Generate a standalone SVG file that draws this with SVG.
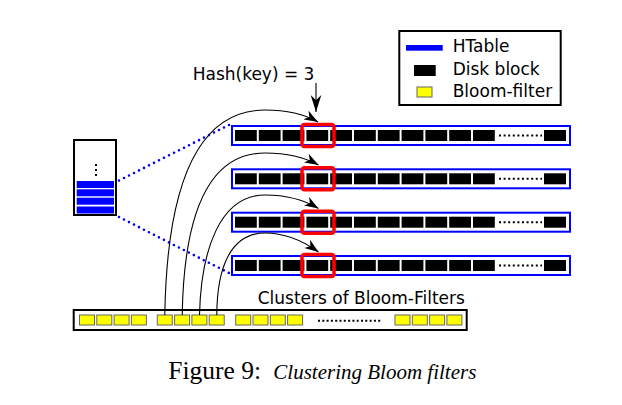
<svg xmlns="http://www.w3.org/2000/svg" xmlns:xlink="http://www.w3.org/1999/xlink" width="622" height="405" viewBox="0 0 622 405">
<style>
.lbl{font-family:"DejaVu Sans",sans-serif;font-size:17px;fill:#000}
.row{fill:#fff;stroke:#0000ff;stroke-width:2}
.blk{fill:#000}
.red{fill:none;stroke:#ff0000;stroke-width:3.5}
.yel{fill:#ffff00;stroke:#666;stroke-width:1}
.dotsb{stroke:#000;stroke-width:2;stroke-dasharray:2 2.6}
.bdot{fill:none;stroke:#0000ff;stroke-width:2.6;stroke-linecap:round;stroke-dasharray:0 5.6}
.cur{fill:none;stroke:#000;stroke-width:1.1}
</style>
<defs>
<marker id="ah" viewBox="0 0 14 10" refX="14" refY="5" markerWidth="14" markerHeight="10" markerUnits="userSpaceOnUse" orient="auto">
<path d="M0,0 L14,5 L0,10 L4,5 z" fill="#000"/>
</marker>
<marker id="ah2" viewBox="0 0 16 10" refX="16" refY="5" markerWidth="17" markerHeight="11" markerUnits="userSpaceOnUse" orient="auto">
<path d="M0,0 L16,5 L0,10 L5,5 z" fill="#000"/>
</marker>
<g id="rowShape">
<rect class="row" x="232" y="1" width="338" height="19"/>
<rect class="blk" x="235" y="5" width="21.8" height="11"/>
<rect class="blk" x="258.8" y="5" width="21.8" height="11"/>
<rect class="blk" x="282.6" y="5" width="21.8" height="11"/>
<rect class="blk" x="306.4" y="5" width="21.8" height="11"/>
<rect class="blk" x="330.2" y="5" width="21.8" height="11"/>
<rect class="blk" x="354" y="5" width="21.8" height="11"/>
<rect class="blk" x="377.8" y="5" width="21.8" height="11"/>
<rect class="blk" x="401.6" y="5" width="21.8" height="11"/>
<rect class="blk" x="425.4" y="5" width="21.8" height="11"/>
<rect class="blk" x="449.2" y="5" width="21.8" height="11"/>
<rect class="blk" x="473" y="5" width="21.8" height="11"/>
<line class="dotsb" x1="499" y1="10.5" x2="542" y2="10.5"/>
<rect class="blk" x="544" y="5" width="22" height="11"/>
<rect class="red" x="302" y="-0.5" width="32" height="22" rx="2.5"/>
</g>
</defs>

<g id="legend">
<rect x="399.3" y="31" width="161.4" height="74" fill="#fff" stroke="#000" stroke-width="2"/>
<rect x="406" y="45" width="36.7" height="5.7" fill="#0000ff"/>
<text class="lbl" x="452.7" y="52.3">HTable</text>
<rect x="414" y="65" width="21.7" height="11" fill="#000"/>
<text class="lbl" x="452.7" y="75">Disk block</text>
<rect class="yel" x="417" y="87" width="15" height="10"/>
<text class="lbl" x="452.7" y="97.3">Bloom-filter</text>
</g>

<g id="htable-index">
<rect x="74" y="140" width="42" height="75" fill="#fff" stroke="#000" stroke-width="2"/>
<rect x="95" y="164" width="2" height="2" fill="#000"/>
<rect x="95" y="169" width="2" height="2" fill="#000"/>
<rect x="95" y="174" width="2" height="2" fill="#000"/>
<rect x="76.7" y="181" width="37.3" height="7" fill="#0000ff"/>
<rect x="76.7" y="189.3" width="37.3" height="7" fill="#0000ff"/>
<rect x="76.7" y="197.7" width="37.3" height="7" fill="#0000ff"/>
<rect x="76.7" y="206.5" width="37.3" height="7" fill="#0000ff"/>
</g>

<g id="row1"><use xlink:href="#rowShape" transform="translate(0,125)"/></g>
<g id="row2"><use xlink:href="#rowShape" transform="translate(0,168.3)"/></g>
<g id="row3"><use xlink:href="#rowShape" transform="translate(0,211.7)"/></g>
<g id="row4"><use xlink:href="#rowShape" transform="translate(0,255)"/></g>

<g id="bloom-clusters">
<rect x="73.7" y="310" width="393" height="20" fill="#fff" stroke="#000" stroke-width="2"/>
<rect class="yel" x="79.5" y="315" width="15" height="10"/>
<rect class="yel" x="96.8" y="315" width="15" height="10"/>
<rect class="yel" x="114.1" y="315" width="15" height="10"/>
<rect class="yel" x="131.4" y="315" width="15" height="10"/>
<rect class="yel" x="157.3" y="315" width="15" height="10"/>
<rect class="yel" x="174.6" y="315" width="15" height="10"/>
<rect class="yel" x="191.9" y="315" width="15" height="10"/>
<rect class="yel" x="209.2" y="315" width="15" height="10"/>
<rect class="yel" x="235.7" y="315" width="15" height="10"/>
<rect class="yel" x="253" y="315" width="15" height="10"/>
<rect class="yel" x="270.3" y="315" width="15" height="10"/>
<rect class="yel" x="287.6" y="315" width="15" height="10"/>
<line class="dotsb" x1="318" y1="320.7" x2="381" y2="320.7" style="stroke-dasharray:2 2.3"/>
<rect class="yel" x="395" y="315" width="15" height="10"/>
<rect class="yel" x="412.3" y="315" width="15" height="10"/>
<rect class="yel" x="429.6" y="315" width="15" height="10"/>
<rect class="yel" x="446.9" y="315" width="15" height="10"/>
<text class="lbl" x="257.7" y="304">Clusters of Bloom-Filters</text>
</g>

<g id="connectors">
<line class="bdot" x1="119" y1="180.5" x2="230" y2="124.5"/>
<line class="bdot" x1="119" y1="217" x2="229" y2="273"/>
<path class="cur" marker-end="url(#ah)" d="M164.8,315 C167,180 200,110 265,110 C287,110 306,115 318,122"/>
<path class="cur" marker-end="url(#ah)" d="M182.2,315 C184,210 210,153 265,153 C287,153 306,158 318.5,165"/>
<path class="cur" marker-end="url(#ah)" d="M199.5,315 C201,250 220,195 265,195 C287,195 306,201 318.5,208.5"/>
<path class="cur" marker-end="url(#ah)" d="M216.8,315 C217,265 232,233 265,233 C287,233 306,243 318.5,252"/>
<line x1="316" y1="83" x2="316" y2="112" stroke="#000" stroke-width="1.1" marker-end="url(#ah2)"/>
</g>

<text class="lbl" x="192.7" y="80">Hash(key) = 3</text>

<text y="379.3" font-family="Liberation Serif, serif" fill="#000"><tspan x="168.3" font-size="25.5">Figure 9:</tspan><tspan x="273.3" font-style="italic" font-size="21">Clustering Bloom filters</tspan></text>
</svg>
